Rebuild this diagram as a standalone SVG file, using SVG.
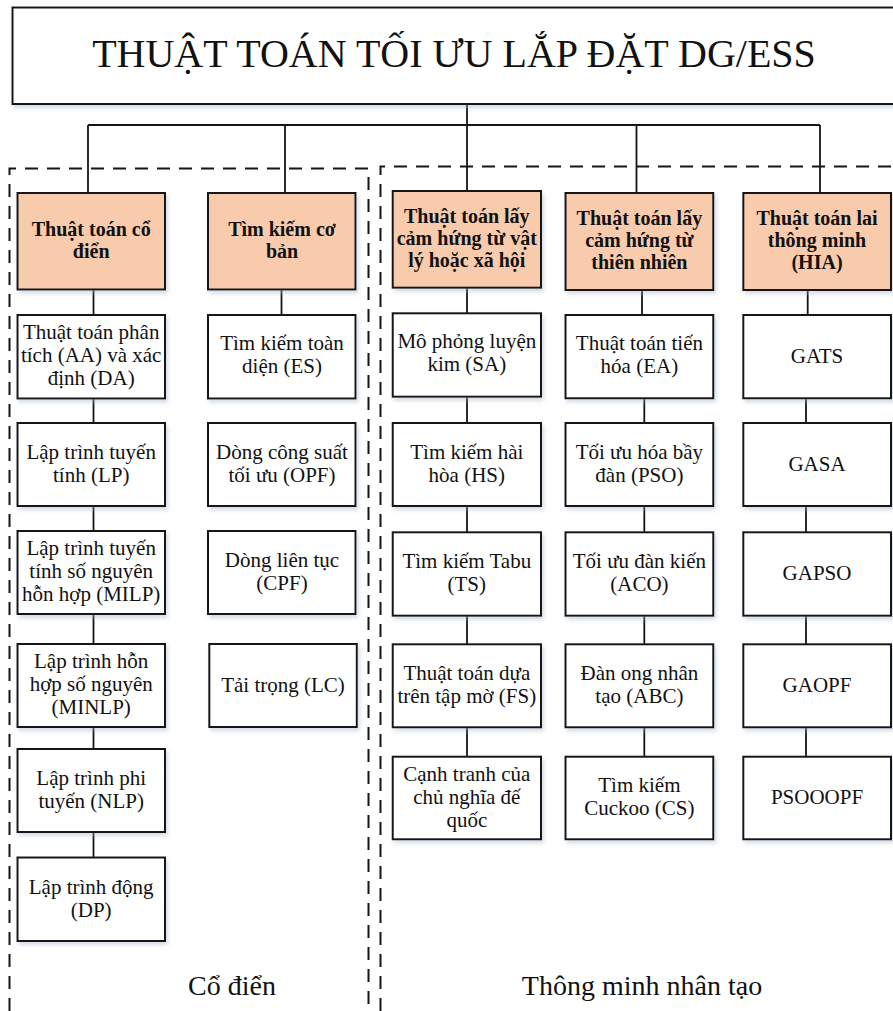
<svg xmlns="http://www.w3.org/2000/svg" width="893" height="1011" viewBox="0 0 893 1011">
  <style>
    .box { fill: #ffffff; stroke: #151515; stroke-width: 2; filter: url(#shadow); }
    .head { fill: #F8CBAD; stroke: #151515; stroke-width: 2; filter: url(#shadow); }
    .wire { stroke: #151515; stroke-width: 1.8; fill: none; }
    .dash { stroke: #151515; stroke-width: 2; fill: none; stroke-dasharray: 13 9; }
    text { font-family: "Liberation Serif", "Times New Roman", serif; fill: #111111; text-anchor: middle; }
    .t { font-size: 21px; }
    .h { font-size: 20px; font-weight: bold; }
    .title { font-size: 40px; }
    .zone { font-size: 28px; }
  </style>
  <defs>
    <filter id="shadow" x="-10%" y="-10%" width="125%" height="125%">
      <feDropShadow dx="2" dy="3" stdDeviation="2" flood-color="#9fb0c8" flood-opacity="0.45"/>
    </filter>
  </defs>

  <rect width="893" height="1011" fill="#ffffff"/>

  <!-- grouping frames -->
  <g id="zones">
    <path class="dash" d="M9.5 1011 V168.5 H368.5 V1011"/>
    <path class="dash" d="M380.5 1011 V166.5 H893"/>
    <text class="zone" x="232" y="995">Cổ điển</text>
    <text class="zone" x="642" y="995">Thông minh nhân tạo</text>
  </g>

  <!-- connectors -->
  <g id="connectors">
    <path class="wire" d="M467 104 V125"/>
    <path class="wire" d="M88 125 H820"/>
    <path class="wire" d="M88 125 V193"/>
    <path class="wire" d="M285 125 V193"/>
    <path class="wire" d="M467 125 V191"/>
    <path class="wire" d="M636.5 125 V193"/>
    <path class="wire" d="M820 125 V193"/>
    <!-- column 1 -->
    <path class="wire" d="M93.5 289 V315 M93.5 398 V423 M93.5 506 V531 M93.5 614 V644 M93.5 727 V749 M93.5 832 V857"/>
    <!-- column 2 -->
    <path class="wire" d="M281.5 289 V315"/>
    <!-- column 3 -->
    <path class="wire" d="M467 288 V313 M467 397 V423 M467 506 V532 M467 616 V644 M467 727 V757"/>
    <!-- column 4 -->
    <path class="wire" d="M642 290 V315 M644.3 398 V423 M644.3 506 V532 M644.3 616 V644 M644.3 727 V757"/>
    <!-- column 5 -->
    <path class="wire" d="M807.7 290 V315 M806 398 V423 M806 506 V532 M806 616 V644 M806 727 V757"/>
  </g>

  <g id="title">
    <rect class="box" x="12.5" y="7.5" width="900" height="96.5"/>
    <text class="title" x="454" y="67">THUẬT TOÁN TỐI ƯU LẮP ĐẶT DG/ESS</text>
  </g>

  <!-- column 1: classical algorithms -->
  <g id="n-classic">
    <rect class="head" x="17.5" y="193" width="147.5" height="96.5"/>
    <text class="h" x="91.2" y="236">Thuật toán cổ</text>
    <text class="h" x="91.2" y="258">điển</text>
  </g>
  <g id="n-aa">
    <rect class="box" x="17.5" y="315" width="147.5" height="83.5"/>
    <text class="t" x="91.2" y="339">Thuật toán phân</text>
    <text class="t" x="91.2" y="362">tích (AA) và xác</text>
    <text class="t" x="91.2" y="385">định (DA)</text>
  </g>
  <g id="n-lp">
    <rect class="box" x="17.5" y="423" width="147.5" height="83"/>
    <text class="t" x="91.2" y="459">Lập trình tuyến</text>
    <text class="t" x="91.2" y="482">tính (LP)</text>
  </g>
  <g id="n-milp">
    <rect class="box" x="17.5" y="531" width="147.5" height="83"/>
    <text class="t" x="91.2" y="555">Lập trình tuyến</text>
    <text class="t" x="91.2" y="578">tính số nguyên</text>
    <text class="t" x="91.2" y="601">hỗn hợp (MILP)</text>
  </g>
  <g id="n-minlp">
    <rect class="box" x="17.5" y="644" width="147.5" height="83"/>
    <text class="t" x="91.2" y="668">Lập trình hỗn</text>
    <text class="t" x="91.2" y="691">hợp số nguyên</text>
    <text class="t" x="91.2" y="714">(MINLP)</text>
  </g>
  <g id="n-nlp">
    <rect class="box" x="17.5" y="749" width="147.5" height="83"/>
    <text class="t" x="91.2" y="785">Lập trình phi</text>
    <text class="t" x="91.2" y="808">tuyến (NLP)</text>
  </g>
  <g id="n-dp">
    <rect class="box" x="17.5" y="857.5" width="147.5" height="83.5"/>
    <text class="t" x="91.2" y="894">Lập trình động</text>
    <text class="t" x="91.2" y="917">(DP)</text>
  </g>

  <!-- column 2: basic search -->
  <g id="n-basic">
    <rect class="head" x="208" y="193" width="147.5" height="96.5"/>
    <text class="h" x="282" y="236">Tìm kiếm cơ</text>
    <text class="h" x="282" y="258">bản</text>
  </g>
  <g id="n-es">
    <rect class="box" x="208" y="315" width="147.5" height="83.5"/>
    <text class="t" x="282" y="350">Tìm kiếm toàn</text>
    <text class="t" x="282" y="373">diện (ES)</text>
  </g>
  <g id="n-opf">
    <rect class="box" x="208" y="423" width="147.5" height="83"/>
    <text class="t" x="282" y="459">Dòng công suất</text>
    <text class="t" x="282" y="482">tối ưu (OPF)</text>
  </g>
  <g id="n-cpf">
    <rect class="box" x="208" y="531" width="147.5" height="83"/>
    <text class="t" x="282" y="567">Dòng liên tục</text>
    <text class="t" x="282" y="590">(CPF)</text>
  </g>
  <g id="n-lc">
    <rect class="box" x="209.3" y="644" width="147.5" height="83"/>
    <text class="t" x="283" y="692">Tải trọng (LC)</text>
  </g>

  <!-- column 3: physics / society inspired -->
  <g id="n-phys">
    <rect class="head" x="392.7" y="191" width="148.3" height="96.7"/>
    <text class="h" x="466.8" y="223">Thuật toán lấy</text>
    <text class="h" x="466.8" y="245">cảm hứng từ vật</text>
    <text class="h" x="466.8" y="267">lý hoặc xã hội</text>
  </g>
  <g id="n-sa">
    <rect class="box" x="392.7" y="313.3" width="148.3" height="83.4"/>
    <text class="t" x="466.8" y="348">Mô phỏng luyện</text>
    <text class="t" x="466.8" y="371">kim (SA)</text>
  </g>
  <g id="n-hs">
    <rect class="box" x="392.7" y="423" width="148.3" height="83"/>
    <text class="t" x="466.8" y="459">Tìm kiếm hài</text>
    <text class="t" x="466.8" y="482">hòa (HS)</text>
  </g>
  <g id="n-ts">
    <rect class="box" x="392.7" y="532.3" width="148.3" height="83.4"/>
    <text class="t" x="466.8" y="568">Tìm kiếm Tabu</text>
    <text class="t" x="466.8" y="591">(TS)</text>
  </g>
  <g id="n-fs">
    <rect class="box" x="392.7" y="644.3" width="148.3" height="83"/>
    <text class="t" x="466.8" y="680">Thuật toán dựa</text>
    <text class="t" x="466.8" y="703">trên tập mờ (FS)</text>
  </g>
  <g id="n-ica">
    <rect class="box" x="392.7" y="756.7" width="148.3" height="82.6"/>
    <text class="t" x="466.8" y="781">Cạnh tranh của</text>
    <text class="t" x="466.8" y="804">chủ nghĩa đế</text>
    <text class="t" x="466.8" y="827">quốc</text>
  </g>

  <!-- column 4: nature inspired -->
  <g id="n-nature">
    <rect class="head" x="565.5" y="193" width="147.8" height="97"/>
    <text class="h" x="639.4" y="225">Thuật toán lấy</text>
    <text class="h" x="639.4" y="247">cảm hứng từ</text>
    <text class="h" x="639.4" y="269">thiên nhiên</text>
  </g>
  <g id="n-ea">
    <rect class="box" x="565.5" y="315" width="147.8" height="83.3"/>
    <text class="t" x="639.4" y="350">Thuật toán tiến</text>
    <text class="t" x="639.4" y="373">hóa (EA)</text>
  </g>
  <g id="n-pso">
    <rect class="box" x="565.5" y="423" width="147.8" height="83"/>
    <text class="t" x="639.4" y="459">Tối ưu hóa bầy</text>
    <text class="t" x="639.4" y="482">đàn (PSO)</text>
  </g>
  <g id="n-aco">
    <rect class="box" x="565.5" y="532.3" width="147.8" height="83.4"/>
    <text class="t" x="639.4" y="568">Tối ưu đàn kiến</text>
    <text class="t" x="639.4" y="591">(ACO)</text>
  </g>
  <g id="n-abc">
    <rect class="box" x="565.5" y="644.3" width="147.8" height="83"/>
    <text class="t" x="639.4" y="680">Đàn ong nhân</text>
    <text class="t" x="639.4" y="703">tạo (ABC)</text>
  </g>
  <g id="n-cs">
    <rect class="box" x="565.5" y="756.7" width="147.8" height="82.6"/>
    <text class="t" x="639.4" y="792">Tìm kiếm</text>
    <text class="t" x="639.4" y="815">Cuckoo (CS)</text>
  </g>

  <!-- column 5: hybrid intelligent algorithms -->
  <g id="n-hia">
    <rect class="head" x="743.3" y="193" width="147.7" height="97"/>
    <text class="h" x="817" y="225">Thuật toán lai</text>
    <text class="h" x="817" y="247">thông minh</text>
    <text class="h" x="817" y="269">(HIA)</text>
  </g>
  <g id="n-gats">
    <rect class="box" x="743.3" y="315" width="147.7" height="83.3"/>
    <text class="t" x="817" y="363">GATS</text>
  </g>
  <g id="n-gasa">
    <rect class="box" x="743.3" y="423" width="147.7" height="83"/>
    <text class="t" x="817" y="471">GASA</text>
  </g>
  <g id="n-gapso">
    <rect class="box" x="743.3" y="532.3" width="147.7" height="83.4"/>
    <text class="t" x="817" y="580">GAPSO</text>
  </g>
  <g id="n-gaopf">
    <rect class="box" x="743.3" y="644.3" width="147.7" height="83"/>
    <text class="t" x="817" y="692">GAOPF</text>
  </g>
  <g id="n-psooopf">
    <rect class="box" x="743.3" y="756.7" width="147.7" height="82.6"/>
    <text class="t" x="817" y="804">PSOOOPF</text>
  </g>
</svg>
